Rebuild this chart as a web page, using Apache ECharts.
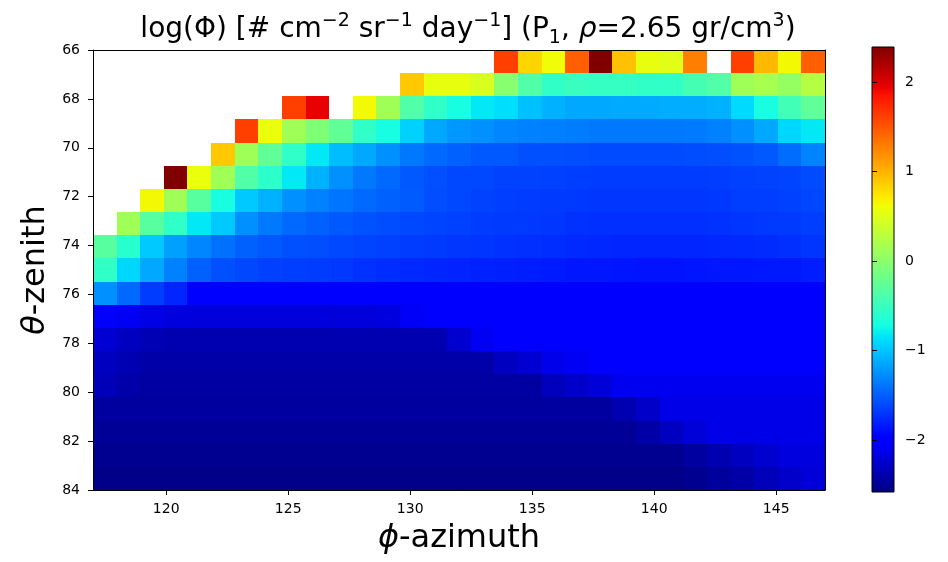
<!DOCTYPE html>
<html><head><meta charset="utf-8">
<script src="https://cdn.jsdelivr.net/npm/echarts@6/dist/echarts.min.js"></script>
<style>html,body{margin:0;padding:0;background:#fff}#c{width:948px;height:562px}</style>
</head><body><div id="c"></div>
<script>
const _ = null;
const phiRange = [117, 147];
const thetaRange = [66, 84];
const xTicks = [120, 125, 130, 135, 140, 145];
const yTicks = [66, 68, 70, 72, 74, 76, 78, 80, 82, 84];
const cbTicks = [-2, -1, 0, 1, 2];
const cbRange = [-2.58, 2.39];

// log(flux) rows, top (theta=66) to bottom (theta=84); columns phi left to right
const r00 = [_,_,_,_,_,_,_,_,_,_,_,_,_,_,_,_,_,1.61,0.82,0.61,1.44,2.39,0.93,0.56,0.52,1.27,_,1.61,0.97,0.63,1.44];
const r01 = [_,_,_,_,_,_,_,_,_,_,_,_,_,0.89,0.56,0.56,0.47,-0.02,-0.36,-0.55,-0.50,-0.52,-0.52,-0.55,-0.55,-0.43,-0.36,0.13,0.17,0.06,0.25];
const r02 = [_,_,_,_,_,_,_,_,1.61,1.94,_,0.62,0.13,-0.36,-0.55,-0.70,-0.83,-0.88,-1.02,-1.10,-1.14,-1.14,-1.13,-1.13,-1.12,-1.12,-1.10,-0.90,-0.70,-0.45,-0.26];
const r03 = [_,_,_,_,_,_,1.61,0.58,0.13,-0.07,-0.26,-0.55,-0.70,-0.94,-1.14,-1.22,-1.26,-1.30,-1.33,-1.34,-1.35,-1.37,-1.37,-1.37,-1.37,-1.36,-1.33,-1.26,-1.14,-0.91,-0.83];
const r04 = [_,_,_,_,_,0.89,0.13,-0.26,-0.55,-0.83,-1.04,-1.14,-1.26,-1.37,-1.45,-1.49,-1.53,-1.53,-1.57,-1.57,-1.58,-1.60,-1.60,-1.60,-1.60,-1.59,-1.58,-1.56,-1.53,-1.43,-1.32];
const r05 = [_,_,_,2.39,0.58,0.13,-0.36,-0.58,-0.83,-1.10,-1.26,-1.37,-1.45,-1.53,-1.57,-1.61,-1.61,-1.64,-1.64,-1.65,-1.66,-1.67,-1.67,-1.67,-1.67,-1.67,-1.66,-1.65,-1.64,-1.63,-1.60];
const r06 = [_,_,0.63,0.13,-0.31,-0.70,-0.98,-1.10,-1.26,-1.33,-1.39,-1.45,-1.49,-1.52,-1.58,-1.61,-1.64,-1.66,-1.67,-1.68,-1.69,-1.70,-1.70,-1.70,-1.70,-1.70,-1.69,-1.66,-1.66,-1.65,-1.62];
const r07 = [_,0.13,-0.31,-0.55,-0.83,-0.98,-1.26,-1.37,-1.45,-1.49,-1.53,-1.56,-1.59,-1.61,-1.63,-1.65,-1.67,-1.68,-1.69,-1.70,-1.72,-1.73,-1.73,-1.73,-1.73,-1.73,-1.72,-1.71,-1.69,-1.68,-1.66];
const r08 = [-0.31,-0.60,-0.98,-1.18,-1.30,-1.41,-1.49,-1.53,-1.57,-1.58,-1.61,-1.63,-1.65,-1.67,-1.68,-1.70,-1.71,-1.72,-1.73,-1.74,-1.76,-1.77,-1.78,-1.78,-1.78,-1.78,-1.77,-1.76,-1.75,-1.73,-1.71];
const r09 = [-0.55,-0.91,-1.14,-1.33,-1.49,-1.57,-1.61,-1.65,-1.66,-1.67,-1.69,-1.72,-1.74,-1.76,-1.78,-1.79,-1.80,-1.81,-1.82,-1.83,-1.85,-1.85,-1.86,-1.87,-1.87,-1.86,-1.85,-1.85,-1.84,-1.84,-1.82];
const r10 = [-1.26,-1.45,-1.67,-1.78,-1.97,-1.98,-1.98,-1.98,-1.98,-1.98,-1.96,-1.99,-1.99,-1.99,-1.99,-1.99,-1.99,-1.99,-1.99,-1.99,-1.99,-1.99,-1.99,-1.99,-1.99,-1.99,-1.99,-1.99,-1.99,-1.99,-1.99];
const r11 = [-2.05,-2.08,-2.14,-2.17,-2.18,-2.18,-2.18,-2.18,-2.18,-2.18,-2.19,-2.19,-2.17,-2.06,-2.02,-2.02,-2.02,-2.02,-2.02,-2.02,-2.02,-2.02,-2.02,-2.02,-2.02,-2.02,-2.02,-2.02,-2.02,-2.02,-2.02];
const r12 = [-2.22,-2.30,-2.35,-2.37,-2.37,-2.37,-2.37,-2.37,-2.37,-2.37,-2.37,-2.37,-2.37,-2.37,-2.37,-2.24,-2.08,-2.02,-2.02,-2.02,-2.02,-2.02,-2.02,-2.02,-2.02,-2.02,-2.02,-2.02,-2.02,-2.02,-2.02];
const r13 = [-2.30,-2.36,-2.40,-2.40,-2.40,-2.40,-2.40,-2.40,-2.40,-2.40,-2.40,-2.40,-2.40,-2.40,-2.40,-2.40,-2.40,-2.30,-2.22,-2.12,-2.08,-2.04,-2.04,-2.04,-2.04,-2.04,-2.04,-2.04,-2.04,-2.04,-2.04];
const r14 = [-2.34,-2.40,-2.43,-2.43,-2.43,-2.43,-2.43,-2.43,-2.43,-2.43,-2.43,-2.43,-2.43,-2.43,-2.43,-2.43,-2.43,-2.43,-2.43,-2.32,-2.26,-2.20,-2.10,-2.10,-2.10,-2.10,-2.10,-2.10,-2.10,-2.10,-2.10];
const r15 = [-2.45,-2.45,-2.45,-2.45,-2.45,-2.45,-2.45,-2.45,-2.45,-2.45,-2.45,-2.45,-2.45,-2.45,-2.45,-2.45,-2.45,-2.45,-2.45,-2.45,-2.45,-2.45,-2.37,-2.27,-2.13,-2.13,-2.13,-2.13,-2.13,-2.13,-2.13];
const r16 = [-2.48,-2.48,-2.48,-2.48,-2.48,-2.48,-2.48,-2.48,-2.48,-2.48,-2.48,-2.48,-2.48,-2.48,-2.48,-2.48,-2.48,-2.48,-2.48,-2.48,-2.48,-2.48,-2.48,-2.41,-2.30,-2.20,-2.13,-2.13,-2.13,-2.13,-2.13];
const r17 = [-2.51,-2.51,-2.51,-2.51,-2.51,-2.51,-2.51,-2.51,-2.51,-2.51,-2.51,-2.51,-2.51,-2.51,-2.51,-2.51,-2.51,-2.51,-2.51,-2.51,-2.51,-2.51,-2.51,-2.51,-2.51,-2.44,-2.37,-2.30,-2.24,-2.17,-2.17];
const r18 = [-2.54,-2.54,-2.54,-2.54,-2.54,-2.54,-2.54,-2.54,-2.54,-2.54,-2.54,-2.54,-2.54,-2.54,-2.54,-2.54,-2.54,-2.54,-2.54,-2.54,-2.54,-2.54,-2.54,-2.54,-2.54,-2.51,-2.46,-2.41,-2.34,-2.27,-2.20];
const rows = [r00,r01,r02,r03,r04,r05,r06,r07,r08,r09,r10,r11,r12,r13,r14,r15,r16,r17,r18];

// matplotlib "jet" colormap
function interp(t, xs, ys){
  for (let k = 1; k < xs.length; k++){
    if (t <= xs[k]) return ys[k-1] + (ys[k]-ys[k-1]) * (t - xs[k-1]) / (xs[k]-xs[k-1]);
  }
  return ys[ys.length-1];
}
function jet(t){
  const r = interp(t,[0,0.35,0.66,0.89,1],[0,0,1,1,0.5]);
  const g = interp(t,[0,0.125,0.375,0.64,0.91,1],[0,0,1,1,0,0]);
  const b = interp(t,[0,0.11,0.34,0.65,1],[0.5,1,1,0,0]);
  return 'rgb(' + Math.round(r*255) + ',' + Math.round(g*255) + ',' + Math.round(b*255) + ')';
}
const jetColors = [];
for (let k = 0; k <= 255; k++) jetColors.push(jet(k/255));
const jetStops = [0,0.11,0.125,0.34,0.35,0.375,0.64,0.65,0.66,0.89,0.91,1].map(o => ({offset:o, color:jet(o)}));

const nTheta = rows.length, nPhi = rows[0].length;
const dPhi = (phiRange[1]-phiRange[0]) / nPhi;
const dTheta = (thetaRange[1]-thetaRange[0]) / nTheta;
const cells = [];
rows.forEach((row, i) => row.forEach((v, j) => {
  if (v !== null) cells.push([phiRange[0] + (j+0.5)*dPhi, thetaRange[0] + (i+0.5)*dTheta, v]);
}));

const FONT = 'DejaVu Sans';
const minus = v => String(v).replace('-', '\u2212');
const TS = 28;

const chart = echarts.init(document.getElementById('c'), null, {renderer:'canvas'});
chart.setOption({
  backgroundColor:'#fff',
  animation:false,
  title:{
    text:'log(Φ) [# cm{sup|−2} sr{sup|−1} day{sup|−1}] (P{sub|1}, {i|ρ}=2.65 gr/cm{sup|3})',
    left:463, top:7, textAlign:'center',
    textStyle:{fontFamily:FONT, fontSize:TS, lineHeight:36, fontWeight:'normal', color:'#000',
      rich:{
        i:{fontFamily:FONT, fontSize:TS, lineHeight:36, fontStyle:'italic', color:'#000'},
        sup:{fontFamily:FONT, fontSize:19, lineHeight:22, verticalAlign:'top', color:'#000'},
        sub:{fontFamily:FONT, fontSize:19, lineHeight:20, verticalAlign:'bottom', color:'#000'}
      }}
  },
  grid:[
    {left:93, top:50, width:732, height:440},
    {left:872, top:47, width:22, height:445}
  ],
  xAxis:[
    {type:'value', gridIndex:0, min:phiRange[0], max:phiRange[1], position:'bottom', z:10,
     splitLine:{show:false},
     axisLine:{show:true, onZero:false, lineStyle:{color:'#000', width:1}},
     axisTick:{show:true, customValues:xTicks, length:5, lineStyle:{color:'#000'}},
     axisLabel:{customValues:xTicks, fontFamily:FONT, fontSize:14, color:'#000', margin:12},
     name:'{i|ϕ}-azimuth', nameLocation:'middle', nameGap:33,
     nameTextStyle:{fontFamily:FONT, fontSize:32, color:'#000', rich:{i:{fontFamily:FONT, fontSize:32, fontStyle:'italic', color:'#000'}}}},
    {type:'value', gridIndex:0, min:phiRange[0], max:phiRange[1], position:'top', z:10,
     splitLine:{show:false}, axisTick:{show:false}, axisLabel:{show:false},
     axisLine:{show:true, onZero:false, lineStyle:{color:'#000', width:1}}},
    {type:'value', gridIndex:1, min:0, max:1, show:false}
  ],
  yAxis:[
    {type:'value', gridIndex:0, min:thetaRange[0], max:thetaRange[1], inverse:true, position:'left', z:10,
     splitLine:{show:false},
     axisLine:{show:true, onZero:false, lineStyle:{color:'#000', width:1}},
     axisTick:{show:true, customValues:yTicks, length:5, lineStyle:{color:'#000'}},
     axisLabel:{customValues:yTicks, fontFamily:FONT, fontSize:14, color:'#000', margin:13},
     name:'{i|θ}-zenith', nameLocation:'middle', nameGap:41, nameRotate:90,
     nameTextStyle:{fontFamily:FONT, fontSize:32, color:'#000', rich:{i:{fontFamily:FONT, fontSize:32, fontStyle:'italic', color:'#000'}}}},
    {type:'value', gridIndex:0, min:thetaRange[0], max:thetaRange[1], inverse:true, position:'right', z:10,
     splitLine:{show:false}, axisTick:{show:false}, axisLabel:{show:false},
     axisLine:{show:true, onZero:false, lineStyle:{color:'#000', width:1}}},
    {type:'value', gridIndex:1, min:cbRange[0], max:cbRange[1], position:'right', z:10,
     splitLine:{show:false}, axisLine:{show:false},
     axisTick:{show:true, customValues:cbTicks, length:5, lineStyle:{color:'#000'}},
     axisLabel:{customValues:cbTicks, fontFamily:FONT, fontSize:14, color:'#000', margin:11, formatter:minus}}
  ],
  visualMap:{type:'continuous', show:false, min:cbRange[0], max:cbRange[1], dimension:2, seriesIndex:0,
    inRange:{color:jetColors}},
  series:[
    {type:'custom', xAxisIndex:0, yAxisIndex:0, data:cells, clip:true,
     encode:{x:0, y:1},
     renderItem:function(params, api){
       const x = api.value(0), y = api.value(1);
       const p0 = api.coord([x - dPhi/2, y - dTheta/2]);
       const p1 = api.coord([x + dPhi/2, y + dTheta/2]);
       const x0 = Math.round(Math.min(p0[0],p1[0])), x1 = Math.round(Math.max(p0[0],p1[0]));
       const y0 = Math.round(Math.min(p0[1],p1[1])), y1 = Math.round(Math.max(p0[1],p1[1]));
       return {type:'rect', shape:{x:x0, y:y0, width:x1-x0, height:y1-y0},
               style:{fill:api.visual('color'), stroke:null}};
     }},
    {type:'custom', xAxisIndex:2, yAxisIndex:2, data:[[0, cbRange[0]]], silent:true,
     renderItem:function(params, api){
       const p0 = api.coord([0, cbRange[0]]);
       const p1 = api.coord([1, cbRange[1]]);
       return {type:'rect', shape:{x:p0[0], y:p1[1], width:p1[0]-p0[0], height:p0[1]-p1[1]},
         style:{fill:new echarts.graphic.LinearGradient(0,1,0,0,jetStops), stroke:'#000', lineWidth:1}};
     }}
  ]
});
</script></body></html>
